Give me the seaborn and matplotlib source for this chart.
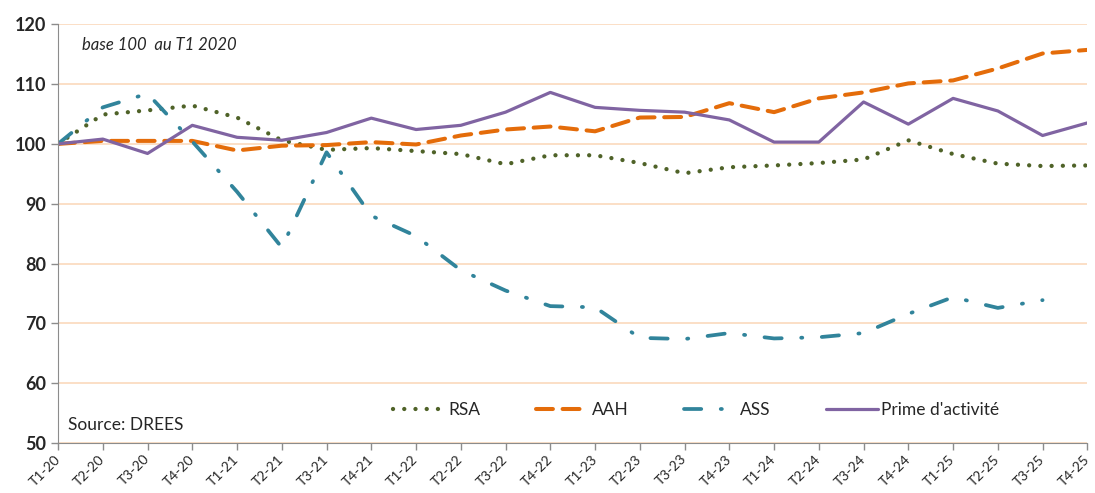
import numpy as np
import pandas as pd
import seaborn as sns
import matplotlib.pyplot as plt

# trimestres T1-20 ... T4-25
trimestres = [f'T{q}-{a}' for a in range(20, 26) for q in range(1, 5)]

rsa = [100, 104.9, 105.6, 106.4, 104.4, 100.6, 99.0, 99.3, 98.8, 98.3, 96.6, 98.1,
       98.1, 96.8, 95.1, 96.1, 96.4, 96.8, 97.4, 100.6, 98.3, 96.7, 96.3, 96.4]
aah = [100, 100.5, 100.5, 100.5, 98.9, 99.7, 99.8, 100.3, 99.9, 101.4, 102.4, 102.9,
       102.1, 104.4, 104.5, 106.8, 105.3, 107.6, 108.6, 110.1, 110.6, 112.6, 115.1, 115.7]
ass = [100, 106.1, 108.4, 100.4, 92.0, 82.7, 98.6, 88.0, 84.6, 78.9, 75.5, 72.9,
       72.7, 67.6, 67.4, 68.4, 67.5, 67.7, 68.4, 71.6, 74.4, 72.6, 73.9, np.nan]
prime = [100, 100.8, 98.4, 103.1, 101.1, 100.6, 101.9, 104.3, 102.4, 103.1, 105.3, 108.6,
         106.1, 105.6, 105.3, 104.0, 100.3, 100.3, 107.0, 103.3, 107.6, 105.5, 101.4, 103.5]

df = pd.DataFrame({'pos': np.arange(len(trimestres)), 'RSA': rsa, 'AAH': aah,
                   'ASS': ass, "Prime d'activité": prime})

sns.set_style('white')
plt.rcParams['font.family'] = ['Lato', 'DejaVu Sans']

fig = plt.figure(figsize=(10.95, 4.93), dpi=100)
ax = fig.add_axes([0.053, 0.101, 0.940, 0.850])

# style de chaque série : couleur, épaisseur, tirets
styles = {
    'RSA': ('#4F6228', 3.1, (0, (0.01, 2.6))),
    'AAH': ('#E46C0A', 2.9, (0, (4.2, 2.4))),
    'ASS': ('#31849B', 2.7, (0, (4.6, 5.2, 0.3, 5.2))),
    "Prime d'activité": ('#8064A2', 2.3, '-'),
}

for nom, (couleur, lw, ls) in styles.items():
    sns.lineplot(data=df, x='pos', y=nom, ax=ax, color=couleur, linewidth=lw,
                 label=nom, dash_capstyle='round', solid_capstyle='round')
    ax.lines[-1].set_linestyle(ls)

ax.set_xlim(0, len(trimestres) - 1)
ax.set_ylim(50, 120)
ax.set_yticks(range(50, 121, 10))
ax.set_xticks(df['pos'])
ax.set_xticklabels(trimestres, rotation=45, ha='right', va='center',
                   rotation_mode='anchor', fontsize=10)
for lab in ax.get_yticklabels():
    lab.set_fontweight('bold')
    lab.set_fontsize(13)
ax.set_xlabel('')
ax.set_ylabel('')

# grille horizontale orangée
ax.grid(axis='y', color='#FBD9BC', linewidth=1.2)
ax.set_axisbelow(True)
for s in ['top', 'right']:
    ax.spines[s].set_visible(False)
for s in ['left', 'bottom']:
    ax.spines[s].set_color('#8C8C8C')
ax.tick_params(axis='both', direction='out', length=5, color='#8C8C8C', width=1,
               left=True, bottom=True)
ax.tick_params(axis='x', pad=5)

ax.text(0.023, 0.951, 'base 100  au T1 2020', transform=ax.transAxes,
        fontsize=12, style='italic', va='center')
ax.text(0.010, 0.043, 'Source: DREES', transform=ax.transAxes,
        fontsize=12.5, va='center')

ax.legend(loc='center', bbox_to_anchor=(0.62, 0.079), ncol=4, frameon=False,
          fontsize=12.5, handlelength=3.0, columnspacing=3.2, handletextpad=0.2)

fig.savefig('out.png', dpi=100)
